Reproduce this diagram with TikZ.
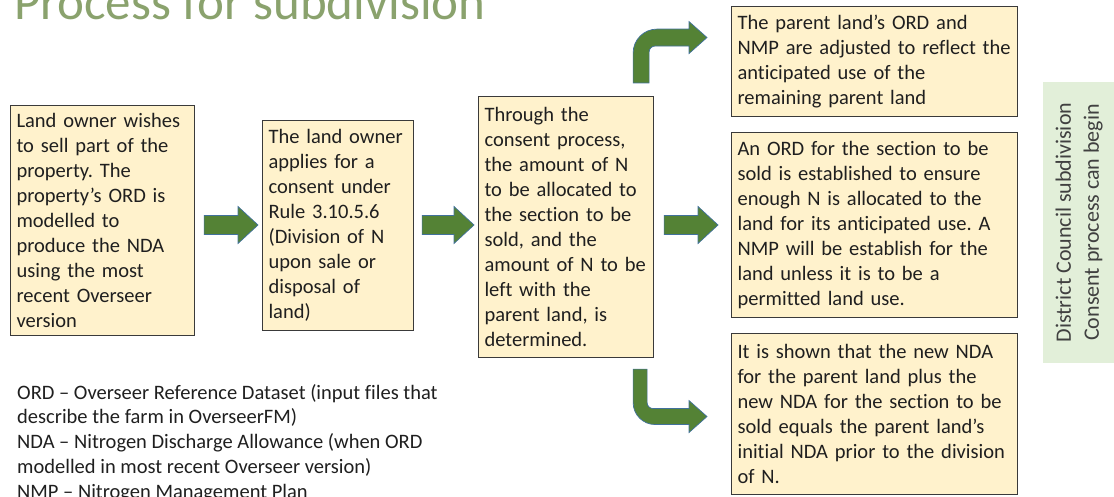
\documentclass[tikz,border=0pt]{standalone}
\usepackage{fontspec}
\setmainfont{Carlito}[Ligatures=NoCommon]
\usetikzlibrary{calc}
\frenchspacing
\definecolor{boxfill}{HTML}{FFF2CC}
\definecolor{boxline}{HTML}{3A3A3A}
\definecolor{arrfill}{HTML}{548235}
\definecolor{arrline}{HTML}{41719C}
\definecolor{sidefill}{HTML}{E2EFD9}
\definecolor{titlecol}{HTML}{8AA26D}
\definecolor{txt}{HTML}{1F1F1F}
\tikzset{box/.style = {draw=boxline, fill=boxfill, line width=1.1pt, anchor=north west,
        align=left, inner xsep=6pt, inner ysep=0pt, text=txt,
        font=\fontsize{20.5}{25}\selectfont},
    side/.style = {fill=sidefill, rotate=90, align=center, text=black!75,
        minimum width=281pt, minimum height=72pt, font=\fontsize{22}{28}\selectfont},
    blk/.style = {fill=arrfill, draw=arrline, line width=0.7pt,
        to path={let \p1=(\tikztostart), \p2=(\tikztotarget) in
        (\x1,\y1+9.5pt) -- (\x2-20pt,\y1+9.5pt) -- (\x2-20pt,\y1+18.5pt) -- (\x2,\y1)
        -- (\x2-20pt,\y1-18.5pt) -- (\x2-20pt,\y1-9.5pt) -- (\x1,\y1-9.5pt) -- cycle}},
    bup/.style = {fill=arrfill, draw=arrline, line width=0.7pt,
        to path={let \p1=(\tikztostart), \p2=(\tikztotarget) in
        (\x1-8pt,\y1) [rounded corners=24pt] -- (\x1-8pt,\y2+8.5pt) [sharp corners]
        -- (\x2-18pt,\y2+8.5pt) -- (\x2-18pt,\y2+16pt) -- (\x2,\y2) -- (\x2-18pt,\y2-16pt)
        -- (\x2-18pt,\y2-8.5pt) [rounded corners=6pt] -- (\x1+8pt,\y2-8.5pt) [sharp corners]
        -- (\x1+8pt,\y1) -- cycle}},
    bdown/.style = {fill=arrfill, draw=arrline, line width=0.7pt,
        to path={let \p1=(\tikztostart), \p2=(\tikztotarget) in
        (\x1-7pt,\y1) [rounded corners=22pt] -- (\x1-7pt,\y2-8pt) [sharp corners]
        -- (\x2-18pt,\y2-8pt) -- (\x2-18pt,\y2-16pt) -- (\x2,\y2) -- (\x2-18pt,\y2+16pt)
        -- (\x2-18pt,\y2+8pt) [rounded corners=6pt] -- (\x1+7pt,\y2+8pt) [sharp corners]
        -- (\x1+7pt,\y1) -- cycle}}}

\begin{document}
\begin{tikzpicture}[x=1pt, y=-1pt]
    \useasboundingbox (0,0) rectangle (1114,497);
    \clip (0,0) rectangle (1114,497);

    \node[anchor=base west, inner sep=0pt, text=titlecol, font=\fontsize{51}{56}\selectfont]
        (title) at (14,20) {Process for subdivision};

    % flow boxes
    \node[box, text width=172pt, minimum height=230pt] (b1) at (10,105)
        {Land owner wishes\\to sell part of the\\property. The\\property’s ORD is\\modelled to\\produce the NDA\\using the most\\recent Overseer\\version};
    \node[box, text width=139pt, minimum height=210pt] (b2) at (262,120)
        {The land owner\\applies for a\\consent under\\Rule 3.10.5.6\\(Division of N\\upon sale or\\disposal of\\land)};
    \node[box, text width=163pt, minimum height=261pt] (b3) at (478,96)
        {Through the\\consent process,\\the amount of N\\to be allocated to\\the section to be\\sold, and the\\amount of N to be\\left with the\\parent land, is\\determined.};
    \node[box, text width=274pt, minimum height=110pt] (b4) at (731,6)
        {The parent land’s ORD and\\NMP are adjusted to reflect the\\anticipated use of the\\remaining parent land};
    \node[box, text width=274pt, minimum height=185pt] (b5) at (731,132)
        {An ORD for the section to be\\sold is established to ensure\\enough N is allocated to the\\land for its anticipated use. A\\NMP will be establish for the\\land unless it is to be a\\permitted land use.};
    \node[box, text width=274pt, minimum height=161pt] (b6) at (731,333)
        {It is shown that the new NDA\\for the parent land plus the\\new NDA for the section to be\\sold equals the parent land’s\\initial NDA prior to the division\\of N.};

    \node[side] (dc) at (1079,222.5) {District Council subdivision\\Consent process can begin};

    \node[anchor=north west, align=left, inner sep=0pt, text=txt,
        font=\fontsize{20.5}{24.8}\selectfont] (legend) at (17,384)
        {ORD – Overseer Reference Dataset (input files that\\describe the farm in OverseerFM)\\NDA – Nitrogen Discharge Allowance (when ORD\\modelled in most recent Overseer version)\\NMP – Nitrogen Management Plan};

    % block arrows
    \coordinate (ay) at (0,225);
    \path (b1.east |- ay) ++(9,0) coordinate (a1s);
    \path (b2.west |- ay) ++(-4,0) coordinate (a1e);
    \path (b2.east |- ay) ++(8,0) coordinate (a2s);
    \path (b3.west |- ay) ++(-4,0) coordinate (a2e);
    \path (b3.east |- ay) ++(10,0) coordinate (a3s);
    \path (b5.west |- ay) ++(-13,0) coordinate (a3e);
    \path (b3.north east) ++(-13,-13) coordinate (u0);
    \path (b4.west) ++(-24,-24) coordinate (u1);
    \path (b3.south east) ++(-14,11) coordinate (d0);
    \path (b6.west) ++(-24,2.5) coordinate (d1);

    \draw[blk] (a1s) to (a1e);
    \draw[blk] (a2s) to (a2e);
    \draw[blk] (a3s) to (a3e);
    \draw[bup] (u0) to (u1);
    \draw[bdown] (d0) to (d1);
\end{tikzpicture}
\end{document}
